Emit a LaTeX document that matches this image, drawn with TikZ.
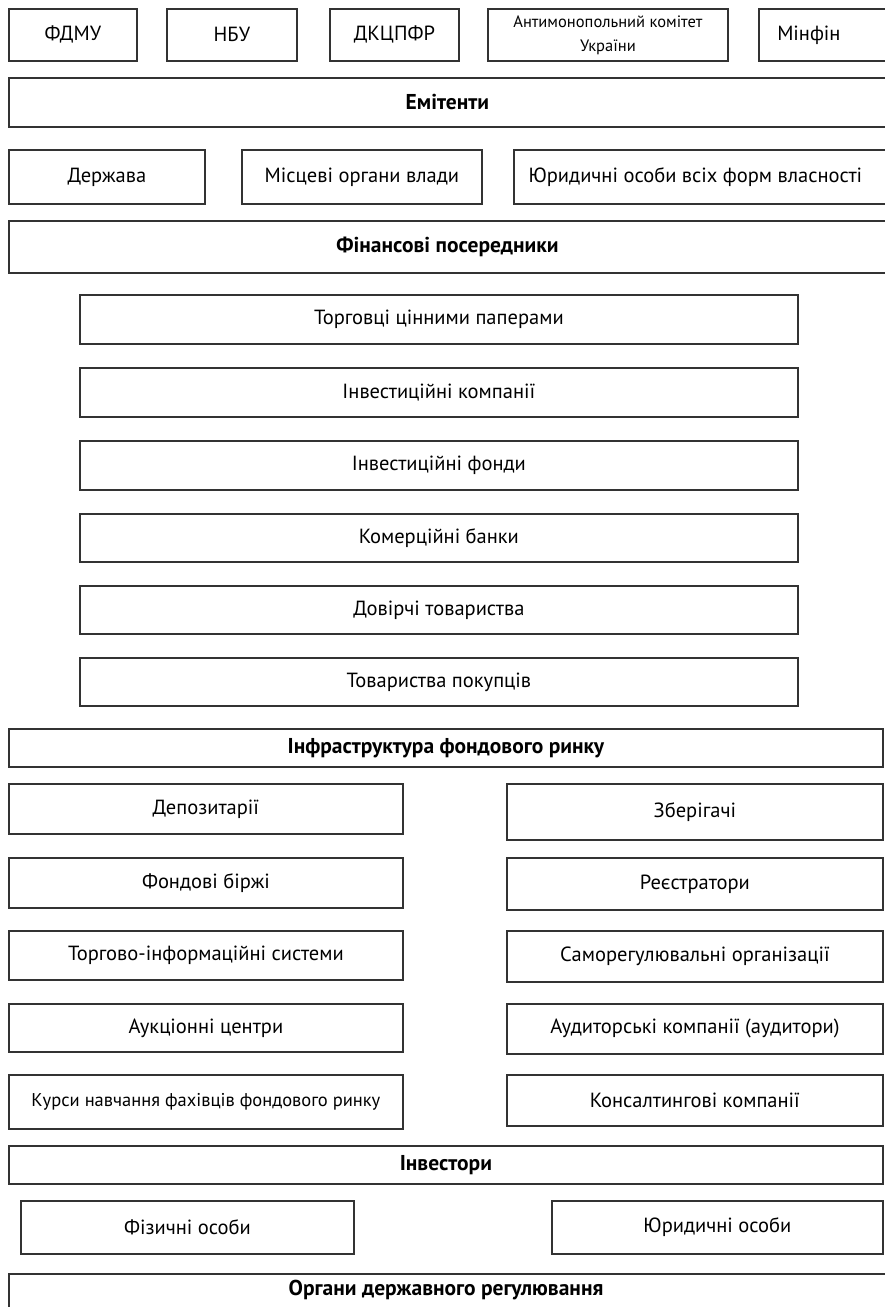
\documentclass[tikz,border=0pt]{standalone}
\usepackage{fontspec}
\setmainfont{PT Sans}
\begin{document}
\begin{tikzpicture}[x=1pt,y=-1pt,
  bx/.style={draw=black!80,line width=1.8pt,fill=white,inner sep=0pt,anchor=north west,align=center,font=\fontsize{20.5}{24}\selectfont},
  hd/.style={bx,font=\bfseries\fontsize{21.5}{24}\selectfont},
  lbl/.style={inner sep=0pt,font=\bfseries\fontsize{21.5}{24}\selectfont}]
\useasboundingbox (0,0) rectangle (885,1307);
\newcommand\bxat[7]{\node[#1,minimum width=#5-#3,minimum height=#6-#4] (#2) at (#3,#4) {#7};}
% top row
\bxat{bx}{fdmu}{8}{8}{136}{60}{ФДМУ}
\bxat{bx}{nbu}{166}{8}{296}{60}{НБУ}
\bxat{bx}{dkc}{329}{8}{458}{60}{ДКЦПФР}
\node[bx,minimum width=240,minimum height=52,font=\fontsize{16.5}{24}\selectfont] (amk) at (487,8) {\raisebox{-2.5pt}{\begin{tabular}{@{}c@{}}Антимонопольний комітет\\[-0.5pt]України\end{tabular}}};
\bxat{bx}{minfin}{758}{8}{900}{60}{\hspace*{-42pt}Мінфін}
\bxat{hd}{emit}{8}{77}{900}{126}{\hspace*{-15pt}Емітенти}
% issuers
\bxat{bx}{derzh}{8}{149}{204}{203}{Держава}
\bxat{bx}{misc}{241}{149}{481}{203}{Місцеві органи влади}
\bxat{bx}{yur}{513}{149}{900}{203}{\hspace*{-24pt}Юридичні особи всіх форм власності}
\bxat{hd}{fin}{8}{220}{900}{272}{\hspace*{-15pt}Фінансові посередники}
% intermediaries
\bxat{bx}{f1}{79}{294}{797}{343}{Торговці цінними паперами}
\bxat{bx}{f2}{79}{367}{797}{416}{Інвестиційні компанії}
\bxat{bx}{f3}{79}{440}{797}{489}{Інвестиційні фонди}
\bxat{bx}{f4}{79}{513}{797}{561}{Комерційні банки}
\bxat{bx}{f5}{79}{585}{797}{633}{Довірчі товариства}
\bxat{bx}{f6}{79}{657}{797}{705}{Товариства покупців}
\bxat{hd}{infra}{8}{728}{882}{766}{Інфраструктура фондового ринку}
% infrastructure left
\bxat{bx}{l1}{8}{783}{402}{833}{Депозитарії}
\bxat{bx}{l2}{8}{857}{402}{907}{Фондові біржі}
\bxat{bx}{l3}{8}{930}{402}{979}{Торгово-інформаційні системи}
\bxat{bx}{l4}{8}{1003}{402}{1051}{Аукціонні центри}
\node[bx,minimum width=394,minimum height=54,font=\fontsize{18.5}{22}\selectfont] (l5) at (8,1074) {Курси навчання фахівців фондового ринку};
% infrastructure right
\bxat{bx}{r1}{506}{783}{882}{839}{Зберігачі}
\bxat{bx}{r2}{506}{857}{882}{909}{Реєстратори}
\bxat{bx}{r3}{506}{930}{882}{981}{Саморегулювальні організації}
\bxat{bx}{r4}{506}{1003}{882}{1053}{Аудиторські компанії (аудитори)}
\bxat{bx}{r5}{506}{1074}{882}{1125}{Консалтингові компанії}
\bxat{hd}{invest}{8}{1145}{882}{1183}{Інвестори}
\bxat{bx}{fiz}{20}{1200}{353}{1253}{Фізичні особи}
\bxat{bx}{yos}{551}{1200}{882}{1253}{Юридичні особи}
\bxat{bx}{organ}{8}{1273}{900}{1330}{}
\node[lbl] (organlbl) at (446,1290) {Органи державного регулювання};
\end{tikzpicture}
\end{document}
